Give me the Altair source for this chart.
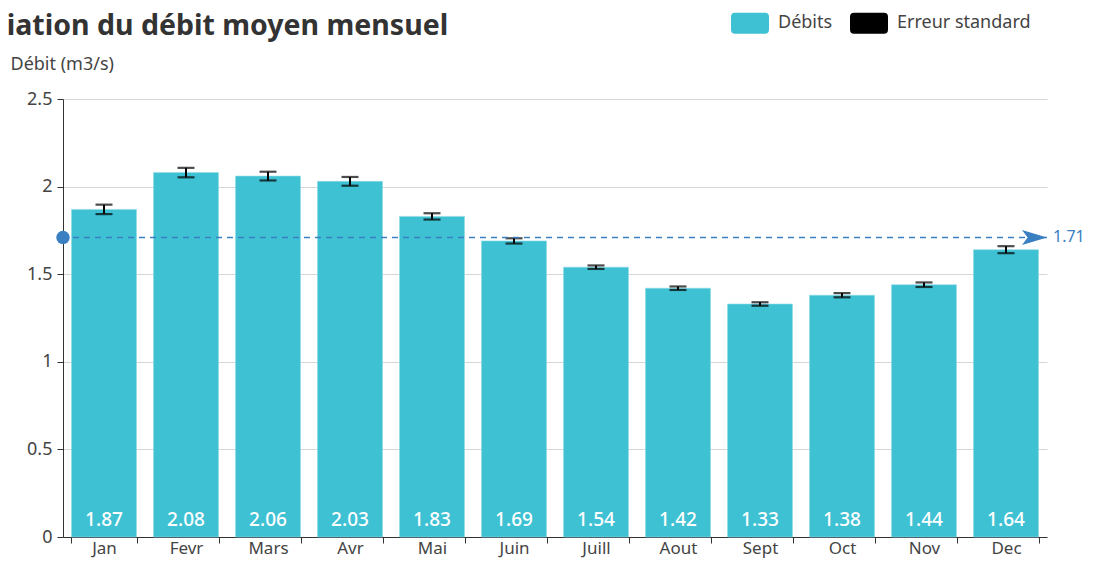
import altair as alt
import pandas as pd

months = ["Jan", "Fevr", "Mars", "Avr", "Mai", "Juin", "Juill", "Aout", "Sept", "Oct", "Nov", "Dec"]
debits = [1.87, 2.08, 2.06, 2.03, 1.83, 1.69, 1.54, 1.42, 1.33, 1.38, 1.44, 1.64]
errors = [0.027, 0.027, 0.025, 0.025, 0.018, 0.015, 0.01, 0.01, 0.01, 0.012, 0.013, 0.02]
mean_value = [1.71]
y_ticks = [0, 0.5, 1, 1.5, 2, 2.5]

title_text = "Variation du débit moyen mensuel"
y_title = "Débit (m3/s)"
series_names = ["Débits", "Erreur standard"]
series_colors = ["#3fc1d4", "#000000"]
mean_color = "#3a7fc1"
FONT = "Noto Sans"

W, H = 984, 438

df = pd.DataFrame({
    "month": months,
    "debit": debits,
    "lo": [d - e for d, e in zip(debits, errors)],
    "hi": [d + e for d, e in zip(debits, errors)],
    "s1": series_names[0],
    "s2": series_names[1],
})
mean_df = pd.DataFrame({"mean": mean_value})

xenc = alt.X("month:N", sort=months, title=None,
             scale=alt.Scale(paddingInner=0.207, paddingOuter=0.1035),
             axis=alt.Axis(labelAngle=0, tickBand="extent", tickSize=6,
                           labelPadding=-3, labelFontSize=17))
yscale = alt.Scale(domain=[0, 2.5], nice=False)

color_scale = alt.Scale(domain=series_names, range=series_colors)
rounded = ("M-0.79,-0.55 L0.79,-0.55 Q1,-0.55 1,-0.34 L1,0.34 Q1,0.55 0.79,0.55 "
           "L-0.79,0.55 Q-1,0.55 -1,0.34 L-1,-0.34 Q-1,-0.55 -0.79,-0.55 Z")

base = alt.Chart(df)

bars = base.mark_bar(stroke="#8fdbe6", strokeWidth=0.6).encode(
    x=xenc,
    y=alt.Y("debit:Q", scale=yscale,
            axis=alt.Axis(values=y_ticks, format="~g", title=y_title,
                          titleAngle=0, titleAlign="left", titleBaseline="alphabetic",
                          titleX=-53, titleY=-30, tickSize=6, labelPadding=5,
                          grid=True)),
    color=alt.Color("s1:N", scale=color_scale, title=None,
                    legend=alt.Legend(orient="none", direction="horizontal",
                                      legendX=668, legendY=-95,
                                      symbolType=rounded, symbolSize=1444,
                                      symbolStrokeWidth=0,
                                      labelFontSize=18, labelColor="#444",
                                      labelFont=FONT, labelOffset=9,
                                      columnPadding=17)),
)

err_rule = base.mark_rule(color="#000", strokeWidth=2).encode(
    x=alt.X("month:N", sort=months),
    y="lo:Q", y2="hi:Q",
)

caps = base.transform_fold(["lo", "hi"], as_=["which", "val"]).mark_tick(
    size=17, thickness=2.2).encode(
    x=alt.X("month:N", sort=months),
    y=alt.Y("val:Q", scale=yscale),
    color=alt.Color("s2:N", scale=color_scale, title=None),
)

labels = base.mark_text(color="white", fontSize=19, font=FONT, fontWeight=500,
                        baseline="middle", dy=-17.5).encode(
    x=alt.X("month:N", sort=months),
    y=alt.datum(0),
    text=alt.Text("debit:Q", format=".2f"),
)

mbase = alt.Chart(mean_df)
mean_rule = mbase.mark_rule(color=mean_color, strokeDash=[6, 5], strokeWidth=1.5).encode(
    y=alt.Y("mean:Q", scale=yscale),
)
mean_dot = mbase.mark_point(filled=True, shape="circle", size=180, color=mean_color,
                            opacity=1).encode(
    x=alt.value(0), y=alt.Y("mean:Q", scale=yscale))
mean_arrow = mbase.mark_point(filled=True, shape="M-1,-0.6 L1,0 L-1,0.6 L-0.55,0 Z",
                              size=625, color=mean_color, opacity=1).encode(
    x=alt.value(W - 12.5), y=alt.Y("mean:Q", scale=yscale))
mean_label = mbase.mark_text(color=mean_color, fontSize=16, font=FONT, align="left",
                             baseline="middle").encode(
    x=alt.value(W + 6), y=alt.Y("mean:Q", scale=yscale),
    text=alt.Text("mean:Q", format=".2f"))

title = mbase.mark_text(text=title_text, fontSize=28.5, fontWeight="bold", font=FONT,
                        color="#333", align="left", baseline="alphabetic").encode(
    x=alt.value(-104), y=alt.value(-64))

chart = alt.layer(
    bars, err_rule, caps, labels, mean_rule, mean_dot, mean_arrow, mean_label, title
).resolve_scale(color="shared").properties(
    width=W, height=H,
    autosize=alt.AutoSizeParams(type="none"),
    padding={"left": 55, "top": 91, "right": 38, "bottom": 21},
).configure_axis(
    labelFont=FONT, titleFont=FONT, labelFontSize=18, titleFontSize=18,
    labelColor="#444", titleColor="#444", titleFontWeight="normal",
    domainColor="#333", tickColor="#333", gridColor="#d6d6d6",
).configure_axisX(grid=False).configure_view(stroke=None)

chart.save("out.html", embed_options={"renderer": "svg", "actions": False})
